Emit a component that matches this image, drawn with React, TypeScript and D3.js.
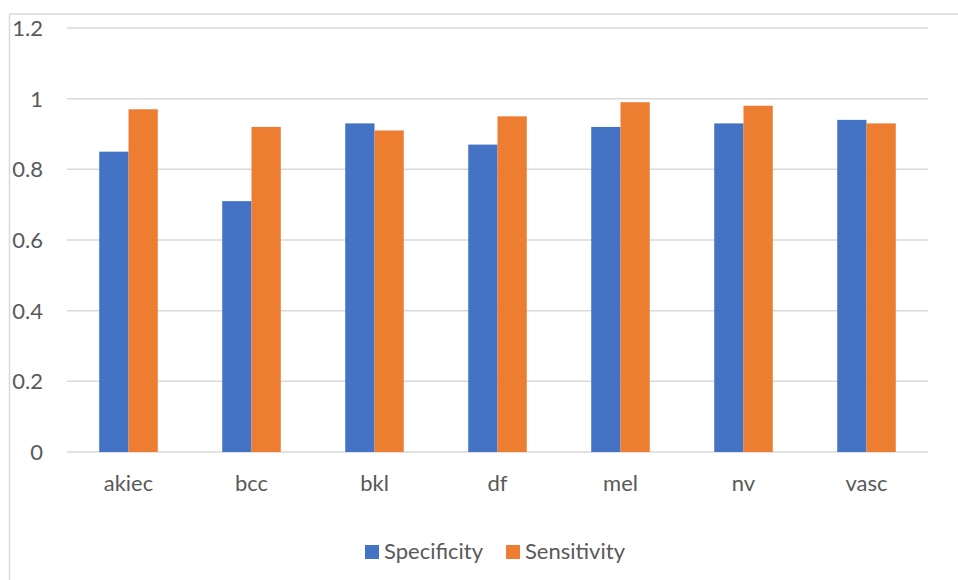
import React from "react";
import * as d3 from "d3";

// Per-class metrics
const categories = ["akiec", "bcc", "bkl", "df", "mel", "nv", "vasc"];
const specificity = [0.85, 0.71, 0.93, 0.87, 0.92, 0.93, 0.94];
const sensitivity = [0.97, 0.92, 0.91, 0.95, 0.99, 0.98, 0.93];
const seriesNames = ["Specificity", "Sensitivity"];
const yTicks = [0, 0.2, 0.4, 0.6, 0.8, 1, 1.2];

const W = 958;
const H = 580;
const colors = ["#4472C4", "#ED7D31"];
const gridColor = "#d9d9d9";
const textColor = "#595959";
const font = "Lato, 'Open Sans', sans-serif";

export default function App() {
  const margin = { left: 67, right: 30, top: 28, bottom: 128 };
  const x = d3
    .scaleBand<string>()
    .domain(categories)
    .range([margin.left, W - margin.right])
    .paddingInner(0)
    .paddingOuter(0);
  const y = d3.scaleLinear().domain([0, 1.2]).range([H - margin.bottom, margin.top]);
  const barW = x.bandwidth() * 0.238;
  const series = [specificity, sensitivity];

  return (
    <svg
      width={W}
      height={H}
      style={{ position: "absolute", left: 0, top: 0, background: "#fff" }}
      fontFamily={font}
    >
      {/* chart frame */}
      <line x1={9.5} x2={W} y1={14} y2={14} stroke={gridColor} strokeWidth={1.5} />
      <line x1={9.5} x2={9.5} y1={14} y2={H} stroke={gridColor} strokeWidth={1.5} />

      {/* gridlines and y labels */}
      {yTicks.map((t) => (
        <g key={t}>
          <line
            x1={margin.left}
            x2={W - margin.right}
            y1={y(t)}
            y2={y(t)}
            stroke={gridColor}
            strokeWidth={1.5}
          />
          <text
            x={43}
            y={y(t)}
            dy="0.36em"
            textAnchor="end"
            fontSize={22}
            fill={textColor}
          >
            {d3.format("")(t)}
          </text>
        </g>
      ))}

      {/* bars */}
      {categories.map((c, i) => {
        const cx = (x(c) as number) + x.bandwidth() / 2;
        return (
          <g key={c}>
            {series.map((s, j) => (
              <rect
                key={j}
                x={cx - barW + j * barW}
                y={y(s[i])}
                width={barW}
                height={y(0) - y(s[i])}
                fill={colors[j]}
              />
            ))}
            <text
              x={cx}
              y={y(0) + 39}
              textAnchor="middle"
              fontSize={22}
              fill={textColor}
            >
              {c}
            </text>
          </g>
        );
      })}

      {/* legend */}
      {seriesNames.map((n, j) => {
        const lx = j === 0 ? 365 : 506;
        return (
          <g key={n}>
            <rect x={lx} y={545} width={14} height={14} fill={colors[j]} />
            <text x={lx + 19} y={559} fontSize={22} fill={textColor}>
              {n}
            </text>
          </g>
        );
      })}
    </svg>
  );
}
